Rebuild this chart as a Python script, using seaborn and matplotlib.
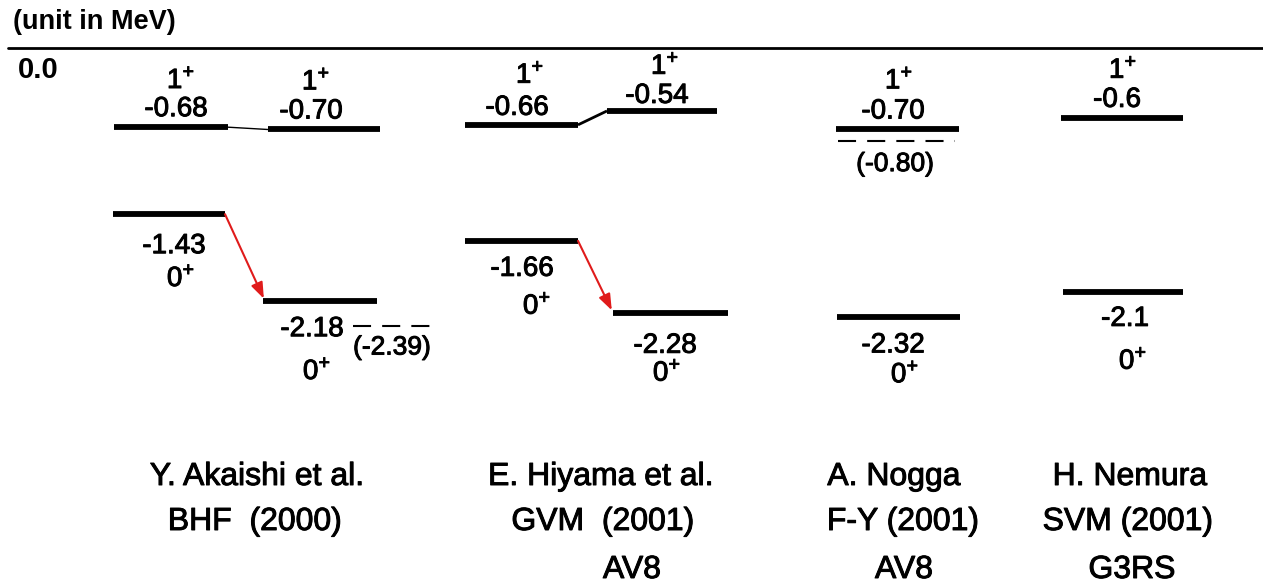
import numpy as np
import pandas as pd
import matplotlib
matplotlib.use("Agg")
import matplotlib.pyplot as plt
import matplotlib.patheffects as pe
import seaborn as sns

# ---- energies of the calculated levels (MeV) ----
akaishi_1plus = [-0.68, -0.70]
akaishi_0plus = [-1.43, -2.18]
hiyama_1plus = [-0.66, -0.54]
hiyama_0plus = [-1.66, -2.28]
nogga_levels = [-0.70, -2.32]
nemura_levels = [-0.6, -2.1]
akaishi_dashed = -2.39
nogga_dashed = -0.80

# ---- group captions ----
authors = ["Y. Akaishi et al.", "E. Hiyama et al.", "A. Nogga", "H. Nemura"]
methods = ["BHF  (2000)", "GVM  (2001)", "F-Y (2001)", "SVM (2001)"]
potentials = ["", "AV8", "AV8", "G3RS"]

# ---- layout (horizontal positions in figure pixels, label offsets in pixels) ----
W, H = 1263, 585
ZERO_PX = 48.3          # pixel row of E = 0
PX_PER_MEV = 116.0
E_TOP = ZERO_PX / PX_PER_MEV
E_BOT = -(H - ZERO_PX) / PX_PER_MEV
PT = 0.72               # points per pixel at 100 dpi

# energy, x0, x1, spin, value-label x, spin-label x, value dy, spin dy, decimals
levels = [
    (akaishi_1plus[0], 114, 228, "1", 176, 181, 11, 39, 2),
    (akaishi_1plus[1], 268, 380, "1", 311, 316, 11, 40, 2),
    (akaishi_0plus[0], 113, 225, "0", 174, 181, -39, -72, 2),
    (akaishi_0plus[1], 263, 377, "0", 312, 317, -35, -78, 2),
    (hiyama_1plus[0], 465, 578, "1", 517, 530, 10, 42, 2),
    (hiyama_1plus[1], 607, 717, "1", 657, 665, 8, 37, 2),
    (hiyama_0plus[0], 465, 578, "0", 522, 537, -35, -73, 2),
    (hiyama_0plus[1], 613, 728, "0", 665, 667, -40, -68, 2),
    (nogga_levels[0], 836, 959, "1", 893, 899, 11, 41, 2),
    (nogga_levels[1], 837, 960, "0", 893, 905, -35, -65, 2),
    (nemura_levels[0], 1061, 1183, "1", 1117, 1123, 11, 40, 1),
    (nemura_levels[1], 1063, 1183, "0", 1125, 1133, -34, -77, 1),
]

# energy, x0, x1, label x, label dy
dashed = [
    (akaishi_dashed, 353, 430, 392, -29),
    (nogga_dashed, 838, 955, 895, -30),
]

# thin connectors between 1+ levels: (E_a, x_a, E_b, x_b, lw)
connectors = [
    (akaishi_1plus[0], 228, akaishi_1plus[1], 268, 1.0),
    (hiyama_1plus[0], 578, hiyama_1plus[1], 607, 2.0),
]
# red arrows between 0+ levels
arrows = [
    (akaishi_0plus[0], 225, akaishi_0plus[1], 265),
    (hiyama_0plus[0], 578, hiyama_0plus[1], 613),
]
author_x = [257, 601, 894, 1130]
method_x = [255, 603, 903, 1128]
potential_x = [258, 632, 904, 1132]
caption_rows = [485, 530, 578]

sns.set_theme(style="white")
plt.rcParams["font.family"] = ["Liberation Sans", "DejaVu Sans"]
plt.rcParams["lines.scale_dashes"] = False

# slightly heavier text strokes
heavy = [pe.withStroke(linewidth=0.7, foreground="black")]

fig = plt.figure(figsize=(W / 100, H / 100), dpi=100)
ax = fig.add_axes([0, 0, 1, 1])
ax.set_xlim(0, W)
ax.set_ylim(E_BOT, E_TOP)
ax.axis("off")

# solid levels
rows = []
for i, (e, x0, x1, *_rest) in enumerate(levels):
    rows.append({"x": x0, "E": e, "seg": i})
    rows.append({"x": x1, "E": e, "seg": i})
lv = pd.DataFrame(rows)
sns.lineplot(data=lv, x="x", y="E", units="seg", estimator=None, color="black",
             lw=4.2, solid_capstyle="butt", ax=ax, legend=False)

# dashed levels
drows = []
for i, (e, x0, x1, _lx, _dy) in enumerate(dashed):
    drows.append({"x": x0, "E": e, "seg": i})
    drows.append({"x": x1, "E": e, "seg": i})
dv = pd.DataFrame(drows)
sns.lineplot(data=dv, x="x", y="E", units="seg", estimator=None, color="black",
             lw=1.5, linestyle=(0, (13, 8)), ax=ax, legend=False)

# zero-energy reference line
zero = pd.DataFrame({"x": [8, W], "E": [0.0, 0.0]})
sns.lineplot(data=zero, x="x", y="E", color="black", lw=2.0, ax=ax, legend=False)

# connectors
for ea, xa, eb, xb, lw in connectors:
    ax.plot([xa, xb], [ea, eb], color="black", lw=lw, solid_capstyle="butt")

# red arrows
for ea, xa, eb, xb in arrows:
    ax.annotate("", xy=(xb, eb), xytext=(xa, ea),
                arrowprops=dict(arrowstyle="-|>,head_length=0.8,head_width=0.3",
                                color="#e01b1b", lw=1.5, shrinkA=0, shrinkB=2))

NUM_FS = 20
# level labels
for e, x0, x1, spin, vx, sx, vdy, sdy, dec in levels:
    ax.annotate(f"{e:.{dec}f}", xy=(vx, e), xytext=(0, vdy * PT),
                textcoords="offset points", ha="center", va="baseline",
                fontsize=NUM_FS, color="black", path_effects=heavy)
    ax.annotate(r"$\mathregular{" + spin + r"^{+}}$", xy=(sx, e),
                xytext=(0, sdy * PT), textcoords="offset points",
                ha="center", va="baseline", fontsize=NUM_FS, color="black",
                path_effects=heavy)

for e, x0, x1, lx, dy in dashed:
    ax.annotate(f"({e:.2f})", xy=(lx, e), xytext=(0, dy * PT),
                textcoords="offset points", ha="center", va="baseline",
                fontsize=19, color="black", path_effects=heavy)

# unit note and zero label
ax.text(13, E_TOP - 29 / PX_PER_MEV, "(unit in MeV)", fontsize=19.5,
        fontweight="bold", ha="left", va="baseline", color="black")
ax.text(18, E_TOP - 78 / PX_PER_MEV, "0.0", fontsize=21,
        fontweight="bold", ha="left", va="baseline", color="black")

# group captions
for ax_x, mx, px, a, m, p in zip(author_x, method_x, potential_x,
                                 authors, methods, potentials):
    ax.text(ax_x, E_TOP - caption_rows[0] / PX_PER_MEV, a, fontsize=23,
            ha="center", va="baseline", color="black", path_effects=heavy)
    ax.text(mx, E_TOP - caption_rows[1] / PX_PER_MEV, m, fontsize=23,
            ha="center", va="baseline", color="black", path_effects=heavy)
    if p:
        ax.text(px, E_TOP - caption_rows[2] / PX_PER_MEV, p, fontsize=23,
                ha="center", va="baseline", color="black", path_effects=heavy)

fig.savefig("out.png", dpi=100, facecolor="white")
